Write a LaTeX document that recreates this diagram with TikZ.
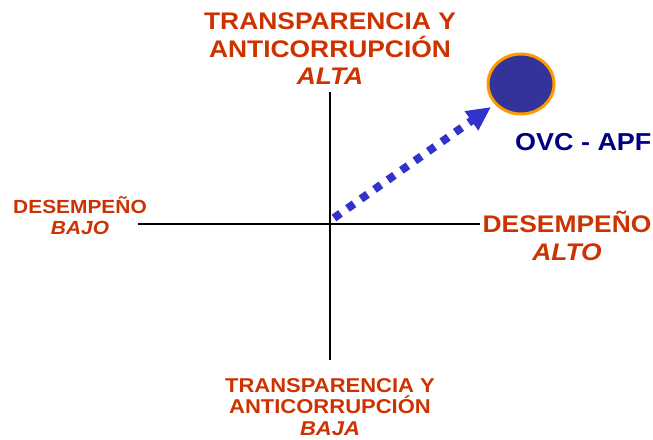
\documentclass[tikz,border=0pt]{standalone}
\usepackage{fontspec}
\setmainfont{Liberation Sans}
\newfontfamily\lab[FakeStretch=1.1]{Liberation Sans}
\usetikzlibrary{arrows.meta,shapes.geometric}
\definecolor{lblred}{HTML}{CC3300}
\definecolor{arrblue}{HTML}{3333CC}
\definecolor{dotfill}{HTML}{333399}
\definecolor{ringor}{HTML}{FF9900}
\definecolor{ovcblue}{HTML}{000080}
\begin{document}
\begin{tikzpicture}[x=1pt,y=-1pt,
  lbl/.style={text=lblred, align=center, inner sep=0pt},
  axis/.style={line width=2pt, black},
  trend/.style={arrblue, line width=8pt, dash pattern=on 8pt off 8.5pt,
    -{Triangle[length=24pt,width=22pt]}},
  bigdot/.style={ellipse, draw=ringor, fill=dotfill, line width=3pt,
    minimum width=66pt, minimum height=60pt, inner sep=0pt}
]
\useasboundingbox (0,0) rectangle (653,439);
\coordinate (vt) at (330,92);
\coordinate (vb) at (330,360);
\coordinate (hl) at (138,224);
\coordinate (hr) at (480,224);
\draw[axis] (vt) -- (vb);
\draw[axis] (hl) -- (hr);
\node[bigdot] (ovc) at (521,84) {};
\coordinate (start) at (334,218);
\coordinate (tip) at (491,107);
\draw[trend] (start) -- (tip);
\node[lbl, anchor=north, font=\lab\bfseries\fontsize{24}{27.5}\selectfont] (top) at (330,13)
  {TRANSPARENCIA Y\\ANTICORRUPCIÓN\\\textit{ALTA}};
\node[lbl, anchor=north, font=\lab\bfseries\fontsize{20}{21.5}\selectfont] (bottom) at (330,378)
  {TRANSPARENCIA Y\\ANTICORRUPCIÓN\\\textit{BAJA}};
\node[lbl, anchor=north, font=\lab\bfseries\fontsize{19}{21.5}\selectfont] (left) at (80,196)
  {DESEMPEÑO\\\textit{BAJO}};
\node[lbl, anchor=north, font=\lab\bfseries\fontsize{24}{27.5}\selectfont] (right) at (567,211)
  {DESEMPEÑO\\\textit{ALTO}};
\node[anchor=base west, inner sep=0pt, text=ovcblue, font=\lab\bfseries\fontsize{24.5}{25}\selectfont] (ovclbl) at (515,150) {OVC - APF};
\end{tikzpicture}
\end{document}
